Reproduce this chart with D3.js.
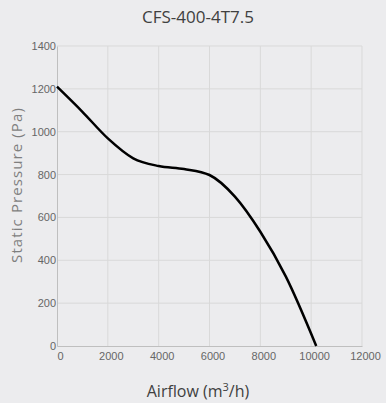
<!DOCTYPE html>
<html>
<head>
<meta charset="utf-8">
<script src="https://cdn.jsdelivr.net/npm/d3@7"></script>
<style>
  body { margin: 0; background: #ececee; }
  svg { display: block; font-family: "Open Sans", sans-serif; }
</style>
</head>
<body>
<svg id="chart"></svg>
<script>
const title = "CFS-400-4T7.5";
const airflow = [0, 1000, 2000, 3000, 4000, 5000, 6000, 7000, 8000, 9000, 10200];
const pressure = [1210, 1093, 969, 876, 840, 826, 798, 697, 533, 325, 0];
const xTicks = [0, 2000, 4000, 6000, 8000, 10000, 12000];
const yTicks = [0, 200, 400, 600, 800, 1000, 1200, 1400];

const size = { width: 386, height: 403 };
const margin = { top: 46, right: 24, bottom: 57, left: 57 };

const data = airflow.map((a, i) => ({ a, p: pressure[i] }));

const svg = d3.select("#chart")
  .attr("width", size.width)
  .attr("height", size.height);

svg.append("rect")
  .attr("width", size.width)
  .attr("height", size.height)
  .attr("fill", "#ececee");

const x = d3.scaleLinear()
  .domain([0, 12000])
  .range([margin.left, size.width - margin.right]);

const y = d3.scaleLinear()
  .domain([0, 1400])
  .range([size.height - margin.bottom, margin.top]);

// grid
svg.append("g")
  .selectAll("line")
  .data(xTicks.slice(1))
  .join("line")
  .attr("x1", (d) => x(d))
  .attr("x2", (d) => x(d))
  .attr("y1", y(1400))
  .attr("y2", y(0))
  .attr("stroke", "#d9d9d9")
  .attr("stroke-width", 1);

svg.append("g")
  .selectAll("line")
  .data(yTicks.slice(1))
  .join("line")
  .attr("x1", x(0))
  .attr("x2", x(12000))
  .attr("y1", (d) => y(d))
  .attr("y2", (d) => y(d))
  .attr("stroke", "#d9d9d9")
  .attr("stroke-width", 1);

// axes
const xAxis = svg.append("g")
  .attr("transform", `translate(0, ${y(0)})`)
  .call(d3.axisBottom(x).tickValues(xTicks).tickFormat(d3.format("d")).tickSize(0).tickPadding(6));
xAxis.select(".domain").attr("stroke", "#bfbfbf");
xAxis.selectAll("text")
  .attr("dx", 3)
  .style("font-size", "11px")
  .attr("fill", "#666");

const yAxis = svg.append("g")
  .attr("transform", `translate(${x(0)}, 0)`)
  .call(d3.axisLeft(y).tickValues(yTicks).tickFormat(d3.format("d")).tickSize(0).tickPadding(1));
yAxis.select(".domain").attr("stroke", "#bfbfbf");
yAxis.selectAll("text")
  .style("font-size", "11px")
  .attr("fill", "#666");

// curve
const line = d3.line()
  .x((d) => x(d.a))
  .y((d) => y(d.p))
  .curve(d3.curveMonotoneX);

svg.append("path")
  .datum(data)
  .attr("d", line)
  .attr("fill", "none")
  .attr("stroke", "#000")
  .attr("stroke-width", 2.5);

// titles
svg.append("text")
  .attr("x", 198)
  .attr("y", 23)
  .attr("text-anchor", "middle")
  .style("font-size", "17px")
  .attr("fill", "#404040")
  .text(title);

svg.append("text")
  .attr("transform", `translate(22, 185) rotate(-90)`)
  .attr("text-anchor", "middle")
  .style("font-size", "15px")
  .style("letter-spacing", "1.1px")
  .attr("fill", "#7f7f7f")
  .text("Static Pressure (Pa)");

const xt = svg.append("text")
  .attr("x", 198)
  .attr("y", 397)
  .attr("text-anchor", "middle")
  .style("font-size", "16px")
  .attr("fill", "#404040");
xt.append("tspan").text("Airflow (m");
xt.append("tspan").attr("dy", -6).style("font-size", "11px").text("3");
xt.append("tspan").attr("dy", 6).text("/h)");
</script>
</body>
</html>
